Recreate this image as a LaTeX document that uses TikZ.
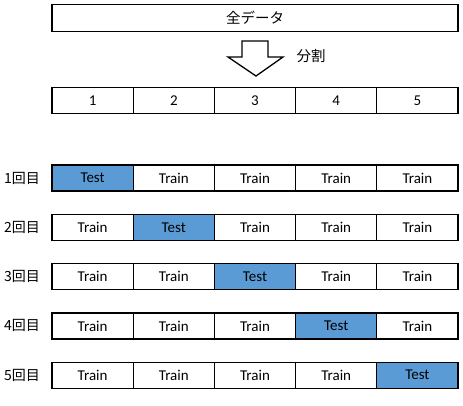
\documentclass[tikz,border=0pt]{standalone}
\usepackage{fontspec}
\setmainfont{Carlito}
\newfontfamily\jp{Noto Sans CJK JP}
\definecolor{testblue}{HTML}{5B9BD5}
\begin{document}
\begin{tikzpicture}[x=1pt,y=-1pt,
  cell/.style={draw=black, line width=1.3pt, minimum width=81.2pt, minimum height=26pt, inner sep=0pt, font=\fontsize{15}{17}\selectfont},
  testcell/.style={cell, fill=testblue},
  lbl/.style={inner sep=0pt, font=\jp\fontsize{14}{16}\selectfont},
  bigarrow/.style={draw=black, line width=1.3pt, fill=white, line join=miter}]
\useasboundingbox (0,0) rectangle (463,405);
% top box
\node[cell, minimum width=406pt, minimum height=27pt, font=\jp\fontsize{14.5}{16}\selectfont] (all) at (255,18) {全データ};
% split arrow
\draw[bigarrow] (242,41) -- (268,41) -- (268,57) -- (283,57) -- (256,76) -- (228,57) -- (242,57) -- cycle;
\node[lbl, font=\jp\fontsize{14.5}{16}\selectfont] (split) at (311,56) {分割};
% numbered row
\foreach \i in {1,...,5} {
  \node[cell] (n\i) at ({52+81.2*(\i-0.5)},100.5) {\i};
}
% folds
\foreach \r in {1,...,5} {
  \pgfmathsetmacro{\yy}{178+49.3*(\r-1)}
  \node[lbl] (l\r) at (22,\yy) {\r 回目};
  \foreach \i in {1,...,5} {
    \ifnum\i=\r
      \node[testcell] (c\r-\i) at ({52+81.2*(\i-0.5)},\yy) {Test};
    \else
      \node[cell] (c\r-\i) at ({52+81.2*(\i-0.5)},\yy) {Train};
    \fi
  }
}
\end{tikzpicture}
\end{document}
